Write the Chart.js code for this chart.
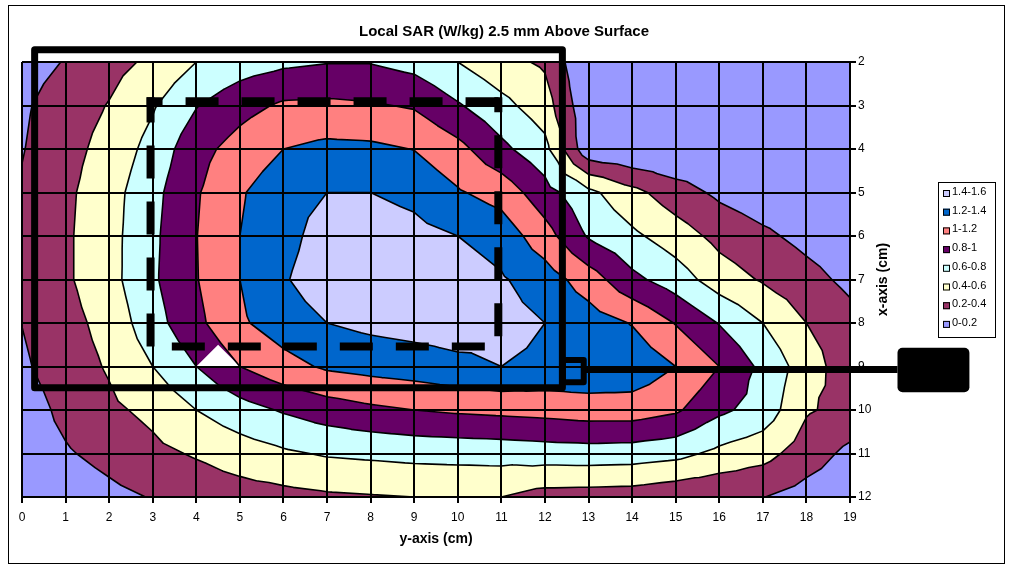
<!DOCTYPE html>
<html>
<head>
<meta charset="utf-8">
<script src="https://cdn.jsdelivr.net/npm/chart.js@4.4.1/dist/chart.umd.min.js"></script>
<style>
  html, body { margin: 0; padding: 0; background: #fff; }
  canvas { display: block; }
</style>
</head>
<body>
<canvas id="sar" width="1011" height="569"></canvas>
<script>
// ---- Measured data -------------------------------------------------------
// Columns: position along the y-axis (cm); rows: position along the x-axis (cm)
const yPositions = [0, 1, 2, 3, 4, 5, 6, 7, 8, 9, 10, 11, 12, 13, 14, 15, 16, 17, 18, 19];
const xPositions = [2, 3, 4, 5, 6, 7, 8, 9, 10, 11, 12];

// Local SAR (W/kg), one row per x position
const sarX2  = [0.12, 0.21, 0.33, 0.44, 0.60, 0.70, 0.76, 0.79, 0.79, 0.73, 0.60, 0.46, 0.37, 0.00, 0.00, 0.00, 0.00, 0.00, 0.00, 0.00];
const sarX3  = [0.17, 0.30, 0.41, 0.58, 0.79, 0.93, 1.03, 1.04, 1.02, 0.98, 0.82, 0.66, 0.49, 0.04, 0.00, 0.00, 0.00, 0.00, 0.00, 0.00];
const sarX4  = [0.19, 0.33, 0.47, 0.67, 0.93, 1.08, 1.20, 1.25, 1.24, 1.195, 1.06, 0.85, 0.66, 0.05, 0.00, 0.00, 0.00, 0.00, 0.00, 0.00];
const sarX5  = [0.22, 0.36, 0.52, 0.74, 0.98, 1.18, 1.32, 1.40, 1.40, 1.35, 1.22, 1.12, 0.88, 0.65, 0.46, 0.29, 0.16, 0.08, 0.03, 0.00];
const sarX6  = [0.24, 0.37, 0.53, 0.76, 0.995, 1.20, 1.33, 1.49, 1.50, 1.46, 1.40, 1.32, 1.08, 0.78, 0.64, 0.50, 0.34, 0.24, 0.14, 0.06];
const sarX7  = [0.25, 0.37, 0.53, 0.77, 0.99, 1.20, 1.38, 1.52, 1.55, 1.55, 1.50, 1.42, 1.30, 1.10, 0.85, 0.70, 0.50, 0.38, 0.27, 0.15];
const sarX8  = [0.203, 0.33, 0.47, 0.72, 0.95, 1.17, 1.30, 1.40, 1.45, 1.48, 1.50, 1.47, 1.40, 1.30, 1.19, 0.99, 0.79, 0.60, 0.40, 0.27];
const sarX9  = [0.17, 0.30, 0.42, 0.60, 0.80, 1.00, 1.13, 1.23, 1.27, 1.30, 1.35, 1.40, 1.36, 1.36, 1.34, 1.20, 1.00, 0.75, 0.50, 0.28];
const sarX10 = [0.10, 0.25, 0.36, 0.45, 0.60, 0.72, 0.82, 0.90, 0.96, 1.00, 1.03, 1.05, 1.07, 1.10, 1.10, 1.03, 0.84, 0.72, 0.42, 0.34];
const sarX11 = [0.08, 0.18, 0.26, 0.35, 0.42, 0.50, 0.57, 0.62, 0.64, 0.66, 0.67, 0.68, 0.70, 0.71, 0.70, 0.66, 0.55, 0.47, 0.30, 0.15];
const sarX12 = [0.02, 0.08, 0.15, 0.21, 0.27, 0.31, 0.34, 0.37, 0.385, 0.40, 0.405, 0.40, 0.32, 0.31, 0.30, 0.25, 0.22, 0.205, 0.12, 0.05];
const sarRows = [sarX2, sarX3, sarX4, sarX5, sarX6, sarX7, sarX8, sarX9, sarX10, sarX11, sarX12];

// Contour bands
const bandLevels = [0, 0.2, 0.4, 0.6, 0.8, 1.0, 1.2, 1.4, 1.6];
const bandLabels = ['0-0.2', '0.2-0.4', '0.4-0.6', '0.6-0.8', '0.8-1', '1-1.2', '1.2-1.4', '1.4-1.6'];

// Axis ticks
const yAxisTicks = [0, 1, 2, 3, 4, 5, 6, 7, 8, 9, 10, 11, 12, 13, 14, 15, 16, 17, 18, 19];
const xAxisTicks = [2, 3, 4, 5, 6, 7, 8, 9, 10, 11, 12];

// A surface facet the renderer left unpainted (cell y 4-5, x 8-9, lower facet)
const unpaintedFacets = [{ y: 4, x: 8, side: 'bottom' }];

// ---- Styling ----------------------------------------------------------------
const FONT = "'Liberation Sans', Arial, Helvetica, sans-serif";
const bandColors = ['#9999FF', '#993366', '#FFFFCC', '#CCFFFF', '#660066', '#FF8080', '#0066CC', '#CCCCFF'];

// Annotation shapes, in axis units (y cm horizontally, x cm vertically)
const outline = {
  solid:  { y0: 0.29, y1: 12.40, x0: 1.72, x1: 9.49, width: 7 },
  dashed: { y0: 2.95, y1: 10.93, x0: 2.90, x1: 8.54, width: 8 },
  square: { y0: 12.41, y1: 12.89, x0: 8.85, x1: 9.36, width: 6 },
  arm:    { y0: 12.89, y1: 20.09, x: 9.07, width: 7 },
  head:   { y0: 20.09, y1: 21.74, x0: 8.57, x1: 9.59, radius: 5 }
};

// ---- Contouring helpers ---------------------------------------------------------
function clipPoly(poly, level, keepAbove) {
  const out = [];
  for (let i = 0; i < poly.length; i++) {
    const a = poly[i], b = poly[(i + 1) % poly.length];
    const ina = keepAbove ? a[2] >= level : a[2] <= level;
    const inb = keepAbove ? b[2] >= level : b[2] <= level;
    if (ina) out.push(a);
    if (ina !== inb) {
      const t = (level - a[2]) / (b[2] - a[2]);
      out.push([a[0] + t * (b[0] - a[0]), a[1] + t * (b[1] - a[1]), level]);
    }
  }
  return out;
}

function buildFacets() {
  const facets = [];
  for (let r = 0; r < xPositions.length - 1; r++) {
    for (let c = 0; c < yPositions.length - 1; c++) {
      const y0 = yPositions[c], y1 = yPositions[c + 1];
      const x0 = xPositions[r], x1 = xPositions[r + 1];
      const A = [y0, x0, sarRows[r][c]];
      const B = [y1, x0, sarRows[r][c + 1]];
      const C = [y1, x1, sarRows[r + 1][c + 1]];
      const D = [y0, x1, sarRows[r + 1][c]];
      const M = [(y0 + y1) / 2, (x0 + x1) / 2, (A[2] + B[2] + C[2] + D[2]) / 4];
      const sides = { top: [A, B, M], right: [B, C, M], bottom: [C, D, M], left: [D, A, M] };
      for (const side in sides) {
        const skip = unpaintedFacets.some(f => f.y === y0 && f.x === x0 && f.side === side);
        if (!skip) facets.push(sides[side]);
      }
    }
  }
  return facets;
}

const contourPlugin = {
  id: 'contourSurface',
  beforeDraw(chart) {
    const ctx = chart.ctx;
    const sx = chart.scales.x, sy = chart.scales.y;
    const px = p => [sx.getPixelForValue(p[0]), sy.getPixelForValue(p[1])];
    const facets = buildFacets();
    ctx.save();
    // Filled bands
    for (let k = 0; k < bandColors.length; k++) {
      const lo = bandLevels[k], hi = bandLevels[k + 1];
      ctx.beginPath();
      for (const tri of facets) {
        let poly = tri;
        if (k > 0) poly = clipPoly(poly, lo, true);
        if (poly.length >= 3 && k < bandColors.length - 1) poly = clipPoly(poly, hi, false);
        if (poly.length < 3) continue;
        poly.forEach((p, i) => {
          const [X, Y] = px(p);
          if (i === 0) ctx.moveTo(X, Y); else ctx.lineTo(X, Y);
        });
        ctx.closePath();
      }
      ctx.fillStyle = bandColors[k];
      ctx.fill();
    }
    // Contour lines between bands
    ctx.beginPath();
    for (let k = 1; k < bandLevels.length - 1; k++) {
      const L = bandLevels[k];
      for (const tri of facets) {
        const pts = [];
        for (let i = 0; i < 3; i++) {
          const a = tri[i], b = tri[(i + 1) % 3];
          if ((a[2] < L) !== (b[2] < L)) {
            const t = (L - a[2]) / (b[2] - a[2]);
            pts.push([a[0] + t * (b[0] - a[0]), a[1] + t * (b[1] - a[1])]);
          }
        }
        if (pts.length === 2) {
          const p0 = px(pts[0]), p1 = px(pts[1]);
          ctx.moveTo(p0[0], p0[1]);
          ctx.lineTo(p1[0], p1[1]);
        }
      }
    }
    ctx.strokeStyle = '#000';
    ctx.lineWidth = 1.6;
    ctx.lineCap = 'round';
    ctx.stroke();
    ctx.restore();
  },
  afterDraw(chart) {
    const ctx = chart.ctx;
    const sx = chart.scales.x, sy = chart.scales.y;
    const X = v => sx.getPixelForValue(v), Y = v => sy.getPixelForValue(v);
    ctx.save();

    // Chart frame
    ctx.strokeStyle = '#000';
    ctx.lineWidth = 1;
    ctx.strokeRect(8.5, 5.5, 996, 558);

    // Title and axis titles
    ctx.fillStyle = '#000';
    ctx.textAlign = 'center';
    ctx.textBaseline = 'middle';
    ctx.font = 'bold 15px ' + FONT;
    ctx.fillText('Local SAR (W/kg) 2.5 mm Above Surface', 504, 32);
    ctx.font = 'bold 14px ' + FONT;
    ctx.fillText('y-axis (cm)', (chart.chartArea.left + chart.chartArea.right) / 2, 539);
    ctx.save();
    ctx.translate(883, (chart.chartArea.top + chart.chartArea.bottom) / 2);
    ctx.rotate(-Math.PI / 2);
    ctx.fillText('x-axis (cm)', 0, 0);
    ctx.restore();

    // Legend
    const lx = 938.5, ly = 182.5, lw = 57, lh = 155;
    ctx.lineWidth = 1;
    ctx.strokeRect(lx, ly, lw, lh);
    ctx.font = '11px ' + FONT;
    ctx.textAlign = 'left';
    ctx.textBaseline = 'middle';
    for (let i = 0; i < bandLabels.length; i++) {
      const k = bandLabels.length - 1 - i;
      const cy = 193 + i * 18.7;
      ctx.fillStyle = bandColors[k];
      ctx.fillRect(943, cy - 3, 7, 7);
      ctx.strokeStyle = '#000';
      ctx.strokeRect(943.5, cy - 2.5, 6, 6);
      ctx.fillStyle = '#000';
      ctx.fillText(bandLabels[k], 952, cy - 1);
    }

    // Solid outline
    const s = outline.solid;
    ctx.strokeStyle = '#000';
    ctx.lineJoin = 'round';
    ctx.lineWidth = s.width;
    ctx.strokeRect(X(s.y0), Y(s.x0), X(s.y1) - X(s.y0), Y(s.x1) - Y(s.x0));

    // Dashed outline, one side at a time
    const d = outline.dashed;
    const L = X(d.y0), R = X(d.y1), T = Y(d.x0), B = Y(d.x1);
    ctx.lineWidth = d.width;
    ctx.lineCap = 'square';
    ctx.setLineDash([25, 31]);
    const side = (x0, y0, x1, y1, off) => {
      ctx.lineDashOffset = off;
      ctx.beginPath(); ctx.moveTo(x0, y0); ctx.lineTo(x1, y1); ctx.stroke();
    };
    side(L, T, R, T, 17);
    side(R, T, R, B, 18);
    side(R, B, L, B, 38.5);
    side(L, B, L, T, 52);
    ctx.setLineDash([]);
    ctx.lineCap = 'butt';

    // Probe: small square, arm and head
    const q = outline.square;
    ctx.lineWidth = q.width;
    ctx.strokeRect(X(q.y0), Y(q.x0), X(q.y1) - X(q.y0), Y(q.x1) - Y(q.x0));
    const a = outline.arm;
    ctx.lineWidth = a.width;
    ctx.beginPath(); ctx.moveTo(X(a.y0), Y(a.x)); ctx.lineTo(X(a.y1), Y(a.x)); ctx.stroke();
    const h = outline.head;
    ctx.beginPath();
    ctx.roundRect(X(h.y0), Y(h.x0), X(h.y1) - X(h.y0), Y(h.x1) - Y(h.x0), h.radius);
    ctx.fillStyle = '#000';
    ctx.fill();

    ctx.restore();
  }
};

Chart.defaults.font.family = FONT;
Chart.defaults.color = '#000';

new Chart(document.getElementById('sar'), {
  type: 'scatter',
  data: { datasets: [] },
  options: {
    responsive: false,
    animation: false,
    events: [],
    layout: { padding: { left: 22, top: 62, right: 0, bottom: 0 } },
    plugins: { legend: { display: false }, title: { display: false }, tooltip: { enabled: false } },
    scales: {
      x: {
        type: 'linear', position: 'bottom',
        min: yAxisTicks[0], max: yAxisTicks[yAxisTicks.length - 1],
        afterBuildTicks: s => { s.ticks = yAxisTicks.map(v => ({ value: v })); },
        afterFit: s => { s.height = 72; },
        ticks: { autoSkip: false, maxRotation: 0, padding: 7, font: { size: 12 }, color: '#000' },
        grid: { color: '#000', lineWidth: 2, tickLength: 6 },
        border: { color: '#000', width: 2 }
      },
      y: {
        type: 'linear', position: 'right', reverse: true,
        min: xAxisTicks[0], max: xAxisTicks[xAxisTicks.length - 1],
        afterBuildTicks: s => { s.ticks = xAxisTicks.map(v => ({ value: v })); },
        afterFit: s => { s.width = 161; },
        ticks: { autoSkip: false, padding: 2, font: { size: 12 }, color: '#000' },
        grid: { color: '#000', lineWidth: 2, tickLength: 6 },
        border: { color: '#000', width: 2 }
      }
    }
  },
  plugins: [contourPlugin]
});
</script>
</body>
</html>
